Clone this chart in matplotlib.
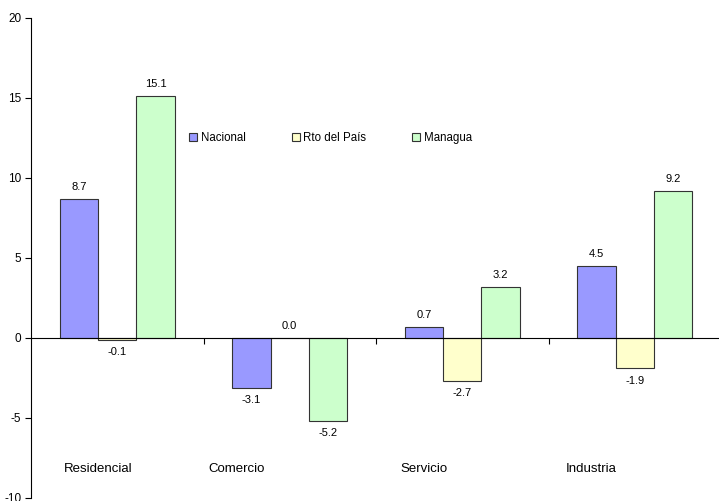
import matplotlib
matplotlib.use("Agg")
import matplotlib.pyplot as plt
import numpy as np

plt.rcParams['font.family'] = ['Liberation Sans', 'DejaVu Sans']

categories = ["Residencial", "Comercio", "Servicio", "Industria"]
series_names = ["Nacional", "Rto del País", "Managua"]
nacional = [8.7, -3.1, 0.7, 4.5]
rto_pais = [-0.1, 0.0, -2.7, -1.9]
managua = [15.1, -5.2, 3.2, 9.2]
colors = ["#9999FF", "#FFFFCC", "#CCFFCC"]
y_ticks = [-10, -5, 0, 5, 10, 15, 20]

fig = plt.figure(figsize=(7.19, 5.01), dpi=100)
ax = fig.add_axes([31 / 719, 1 - 498 / 501, 690 / 719, 480 / 501])

x = np.arange(len(categories))
width = 0.223
handles = []
for i, (vals, col, name) in enumerate(zip([nacional, rto_pais, managua], colors, series_names)):
    pos = x + (i - 1) * width
    bars = ax.bar(pos, vals, width, color=col, edgecolor="#333333", linewidth=0.8, label=name)
    handles.append(bars)
    for px, v in zip(pos, vals):
        if v >= 0:
            ax.text(px, v + 0.45, f"{v:.1f}", ha="center", va="bottom", fontsize=8)
        else:
            ax.text(px, v - 0.45, f"{v:.1f}", ha="center", va="top", fontsize=8)

ax.set_xlim(-0.5, 3.5)
ax.set_ylim(-10, 20)
ax.set_yticks(y_ticks)
ax.set_yticklabels([str(t) for t in y_ticks], fontsize=8.5)
ax.tick_params(axis="y", direction="out", length=4, width=0.8, pad=3)

ax.spines["top"].set_visible(False)
ax.spines["right"].set_visible(False)
ax.spines["bottom"].set_position(("data", 0))
ax.spines["left"].set_linewidth(0.8)
ax.spines["bottom"].set_linewidth(0.8)
ax.set_xticks([0.5, 1.5, 2.5])
ax.set_xticklabels([])
ax.tick_params(axis="x", direction="out", length=4, width=0.8)

# category names sit low in the plot area
label_x = [-0.11, 0.69, 1.78, 2.75]
for lx, name in zip(label_x, categories):
    ax.text(lx, -8.2, name, ha="center", va="center", fontsize=9.5)

ax.legend(handles=handles, loc="upper left", bbox_to_anchor=(0.214, 0.785), ncol=3,
          frameon=False, fontsize=8.3, handlelength=0.7, handleheight=0.7,
          columnspacing=4.0, handletextpad=0.3)

fig.savefig("out.png", dpi=100)
